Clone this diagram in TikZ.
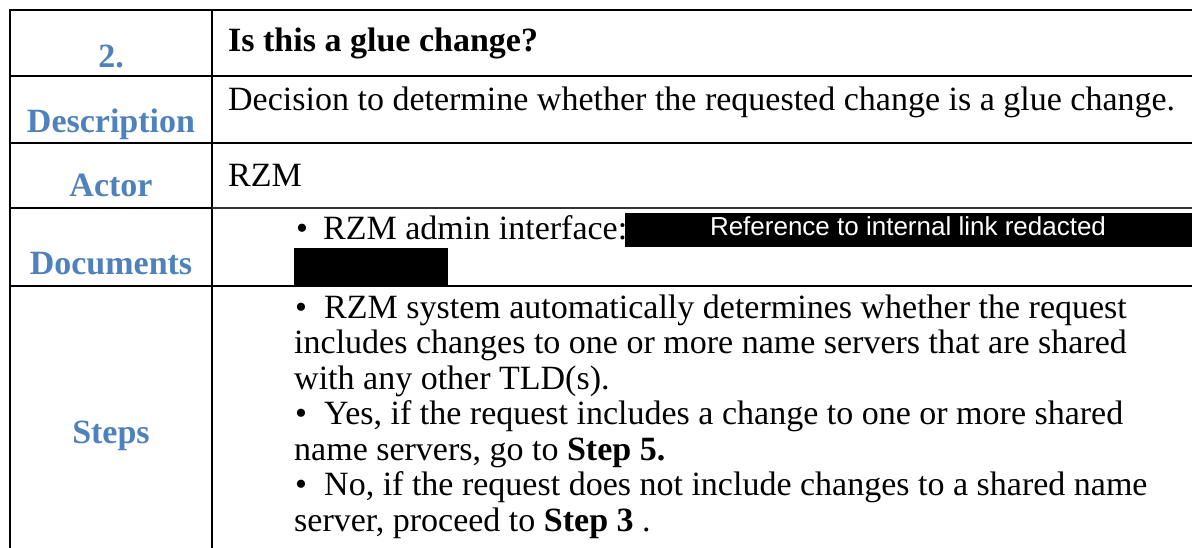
\documentclass[tikz,border=0pt]{standalone}
\usepackage{fontspec}
\setmainfont{Liberation Serif}
\newfontfamily\redactfont{Liberation Sans}
\definecolor{labelblue}{RGB}{79,129,189}
\tikzset{
  rule/.style={line width=2pt},
  thinrule/.style={line width=1.3pt, draw=black!80},
  headcell/.style={font=\fontsize{34}{40}\selectfont\bfseries, text=labelblue, anchor=base, inner sep=0pt},
  bodytext/.style={font=\fontsize{34}{40}\selectfont, anchor=base west, inner sep=0pt},
  bulletmark/.style={font=\fontsize{34}{40}\selectfont, anchor=base, inner sep=0pt},
  redactbar/.style={fill=black},
  redacttext/.style={font=\redactfont\fontsize{26}{31}\selectfont, text=white, anchor=base, inner sep=0pt},
}
\begin{document}
\begin{tikzpicture}[x=1pt,y=-1pt]
\useasboundingbox (0,0) rectangle (1192,548);
\fill[white] (0,0) rectangle (1192,548);

% blacked-out link
\fill[redactbar] (625,213) rectangle (1192,247);
\fill[redactbar] (294,248) rectangle (448,287);
\node[redacttext] (redact) at (908,236) {Reference to internal link redacted};

% table rules
\draw[rule] (1192,10) -- (9,10);
\draw[rule] (10,9) -- (10,548);
\draw[rule] (212,9) -- (212,548);
\draw[rule] (10,76) -- (1192,76);
\draw[rule] (10,143) -- (1192,143);
\draw[rule] (10,208) -- (212,208);
\draw[thinrule] (212,208) -- (1192,208);
\draw[rule] (10,286) -- (1192,286);

% left column headings
\node[headcell] (hnum)   at (111,68)  {2.};
\node[headcell] (hdesc)  at (111,133) {Description};
\node[headcell] (hactor) at (111,197) {Actor};
\node[headcell] (hdocs)  at (111,275) {Documents};
\node[headcell] (hsteps) at (111,443) {Steps};

% right column content
\node[bodytext, font=\fontsize{34}{40}\selectfont\bfseries] (title) at (228,52) {Is this a glue change?};
\node[bodytext] (desc)  at (228,111) {Decision to determine whether the requested change is a glue change.};
\node[bodytext] (actor) at (228,187) {RZM};

\node[bulletmark] (docb) at (302,240) {•};
\node[bodytext]   (doct) at (323,240) {RZM admin interface:};

\node[bulletmark] (sb1) at (301,318) {•};
\node[bodytext] (s1) at (324,318)   {RZM system automatically determines whether the request};
\node[bodytext] (s2) at (294,353.5) {includes changes to one or more name servers that are shared};
\node[bodytext] (s3) at (294,389)   {with any other TLD(s).};
\node[bulletmark] (sb2) at (301,424.5) {•};
\node[bodytext] (s4) at (324,424.5) {Yes, if the request includes a change to one or more shared};
\node[bodytext] (s5) at (294,460)   {name servers, go to \textbf{Step 5.}};
\node[bulletmark] (sb3) at (301,495.5) {•};
\node[bodytext] (s6) at (324,495.5) {No, if the request does not include changes to a shared name};
\node[bodytext] (s7) at (294,531)   {server, proceed to \textbf{Step 3} .};
\end{tikzpicture}
\end{document}
